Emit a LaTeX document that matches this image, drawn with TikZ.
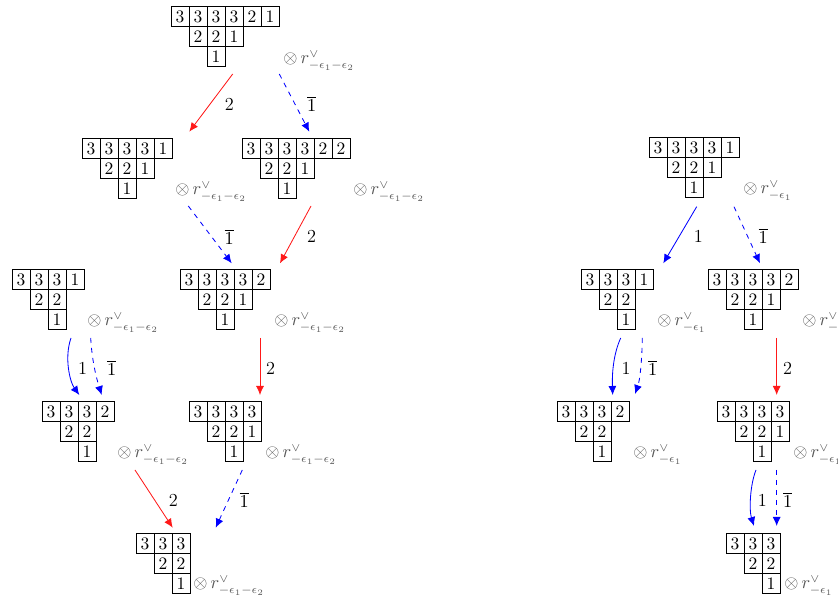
\documentclass[tikz,border=0pt]{standalone}
\usetikzlibrary{arrows.meta}
\newcommand\ytab[6]{%
  \foreach \v [count=\i] in {#4} \node[cell] (#1-1-\i) at ({#2+18*\i-9},{#3+10}) {\v};
  \foreach \v [count=\i] in {#5} \node[cell] (#1-2-\i) at ({#2+18*\i+9},{#3+30}) {\v};
  \foreach \v [count=\i] in {#6} \node[cell] (#1-3-\i) at ({#2+18*\i+27},{#3+50}) {\v};
}
\newcommand\tensA{$\otimes\, r^{\vee}_{-\epsilon_1-\epsilon_2}$}
\newcommand\tensB{$\otimes\, r^{\vee}_{-\epsilon_1}$}
\newcommand\ob{$\overline{1}$}
\begin{document}
\begin{tikzpicture}[x=0.6pt,y=-0.6pt,
  cell/.style={draw, line width=0.6pt, minimum width=10.8pt, minimum height=12pt, inner sep=0pt, font=\fontsize{10.5}{12}\selectfont},
  tens/.style={anchor=base west, inner sep=0pt, text=black!65, font=\fontsize{10.5}{12}\selectfont},
  lab/.style={inner sep=0pt, font=\fontsize{11}{13}\selectfont},
  arr/.style={line width=0.5pt, -{Latex[length=5.4pt,width=4.8pt]}},
  redarr/.style={arr, red!90!white},
  bluearr/.style={arr, blue},
  bluedash/.style={arr, blue, dash pattern=on 3pt off 3pt}]
\useasboundingbox (0,0) rectangle (838,602);
% ---------- left tree ----------
\ytab{A}{171}{7}{3,3,3,3,2,1}{2,2,1}{1}
\ytab{B}{82}{139}{3,3,3,3,1}{2,2,1}{1}
\ytab{C}{242}{139}{3,3,3,3,2,2}{2,2,1}{1}
\ytab{D}{180}{270}{3,3,3,3,2}{2,2,1}{1}
\ytab{E}{12}{270}{3,3,3,1}{2,2}{1}
\ytab{F}{42}{402}{3,3,3,2}{2,2}{1}
\ytab{G}{189}{402}{3,3,3,3}{2,2,1}{1}
\ytab{H}{136}{534}{3,3,3}{2,2}{1}
\node[tens] (A-t) at (283,64) {\tensA};
\node[tens] (B-t) at (175,195) {\tensA};
\node[tens] (C-t) at (353,195) {\tensA};
\node[tens] (D-t) at (274,326) {\tensA};
\node[tens] (E-t) at (87,326) {\tensA};
\node[tens] (F-t) at (117,458) {\tensA};
\node[tens] (G-t) at (265,458) {\tensA};
\node[tens] (H-t) at (193,589) {\tensA};
% ---------- right tree ----------
\ytab{P}{649}{138}{3,3,3,3,1}{2,2,1}{1}
\ytab{Q}{581}{270}{3,3,3,1}{2,2}{1}
\ytab{R}{708}{270}{3,3,3,3,2}{2,2,1}{1}
\ytab{S}{557}{402}{3,3,3,2}{2,2}{1}
\ytab{T}{717}{402}{3,3,3,3}{2,2,1}{1}
\ytab{U}{726}{534}{3,3,3}{2,2}{1}
\node[tens] (P-t) at (743,194) {\tensB};
\node[tens] (Q-t) at (657,326) {\tensB};
\node[tens] (R-t) at (802,326) {\tensB};
\node[tens] (S-t) at (633,458) {\tensB};
\node[tens] (T-t) at (793,458) {\tensB};
\node[tens] (U-t) at (784,589) {\tensB};
% ---------- arrow end points ----------
\coordinate (ab0) at (232.7,74);   \coordinate (ab1) at (189.3,131.7);
\coordinate (ac0) at (279.3,74);   \coordinate (ac1) at (309.3,131.7);
\coordinate (bd0) at (188.3,206);  \coordinate (bd1) at (231.7,263.3);
\coordinate (cd0) at (311,206);    \coordinate (cd1) at (280,263.3);
\coordinate (ef0) at (71,338);     \coordinate (ef1) at (79.3,395);
\coordinate (eg0) at (90.7,338);   \coordinate (eg1) at (101.7,395);
\coordinate (dg0) at (260,338);    \coordinate (dg1) at (260,395);
\coordinate (fh0) at (135,470);    \coordinate (fh1) at (172.7,527.7);
\coordinate (gh0) at (242.3,470);  \coordinate (gh1) at (215.7,527.7);
\coordinate (pq0) at (696.7,206.7);\coordinate (pq1) at (663.3,263.3);
\coordinate (pr0) at (734,206.7);  \coordinate (pr1) at (760,263.3);
\coordinate (qs0) at (620.7,338);  \coordinate (qs1) at (612.7,395);
\coordinate (qt0) at (642.3,338);  \coordinate (qt1) at (635,394);
\coordinate (rt0) at (776.7,338);  \coordinate (rt1) at (776.7,395);
\coordinate (tu0) at (756,470);    \coordinate (tu1) at (754,526);
\coordinate (tv0) at (776.7,470);  \coordinate (tv1) at (776.7,526);
% ---------- arrows ----------
\draw[redarr] (ab0) -- (ab1);
\draw[bluedash] (ac0) -- (ac1);
\draw[bluedash] (bd0) -- (bd1);
\draw[redarr] (cd0) -- (cd1);
\draw[bluearr] (ef0) .. controls (64,358) and (70,382) .. (ef1);
\draw[bluedash] (eg0) .. controls (92,362) and (97,380) .. (eg1);
\draw[redarr] (dg0) -- (dg1);
\draw[redarr] (fh0) -- (fh1);
\draw[bluedash] (gh0) -- (gh1);
\draw[bluearr] (pq0) -- (pq1);
\draw[bluedash] (pr0) -- (pr1);
\draw[bluearr] (qs0) .. controls (613,355) and (612,375) .. (qs1);
\draw[bluedash] (qt0) .. controls (642,360) and (640,380) .. (qt1);
\draw[redarr] (rt0) -- (rt1);
\draw[bluearr] (tu0) .. controls (750,485) and (749,510) .. (tu1);
\draw[bluedash] (tv0) -- (tv1);
% ---------- arrow labels ----------
\node[lab] (l-ab) at (229.3,104) {2};
\node[lab] (l-ac) at (311.7,104) {\ob};
\node[lab] (l-bd) at (229.3,236.7) {\ob};
\node[lab] (l-cd) at (311.7,236.5) {2};
\node[lab] (l-ef) at (82.7,368) {1};
\node[lab] (l-eg) at (111.7,368) {\ob};
\node[lab] (l-dg) at (270.7,368) {2};
\node[lab] (l-fh) at (173.3,500) {2};
\node[lab] (l-gh) at (244.3,500) {\ob};
\node[lab] (l-pq) at (698.3,236) {1};
\node[lab] (l-pr) at (763.3,236) {\ob};
\node[lab] (l-qs) at (626,368) {1};
\node[lab] (l-qt) at (652.7,368) {\ob};
\node[lab] (l-rt) at (787.7,368) {2};
\node[lab] (l-tu) at (762.3,500) {1};
\node[lab] (l-tv) at (787.7,500) {\ob};
\end{tikzpicture}
\end{document}
